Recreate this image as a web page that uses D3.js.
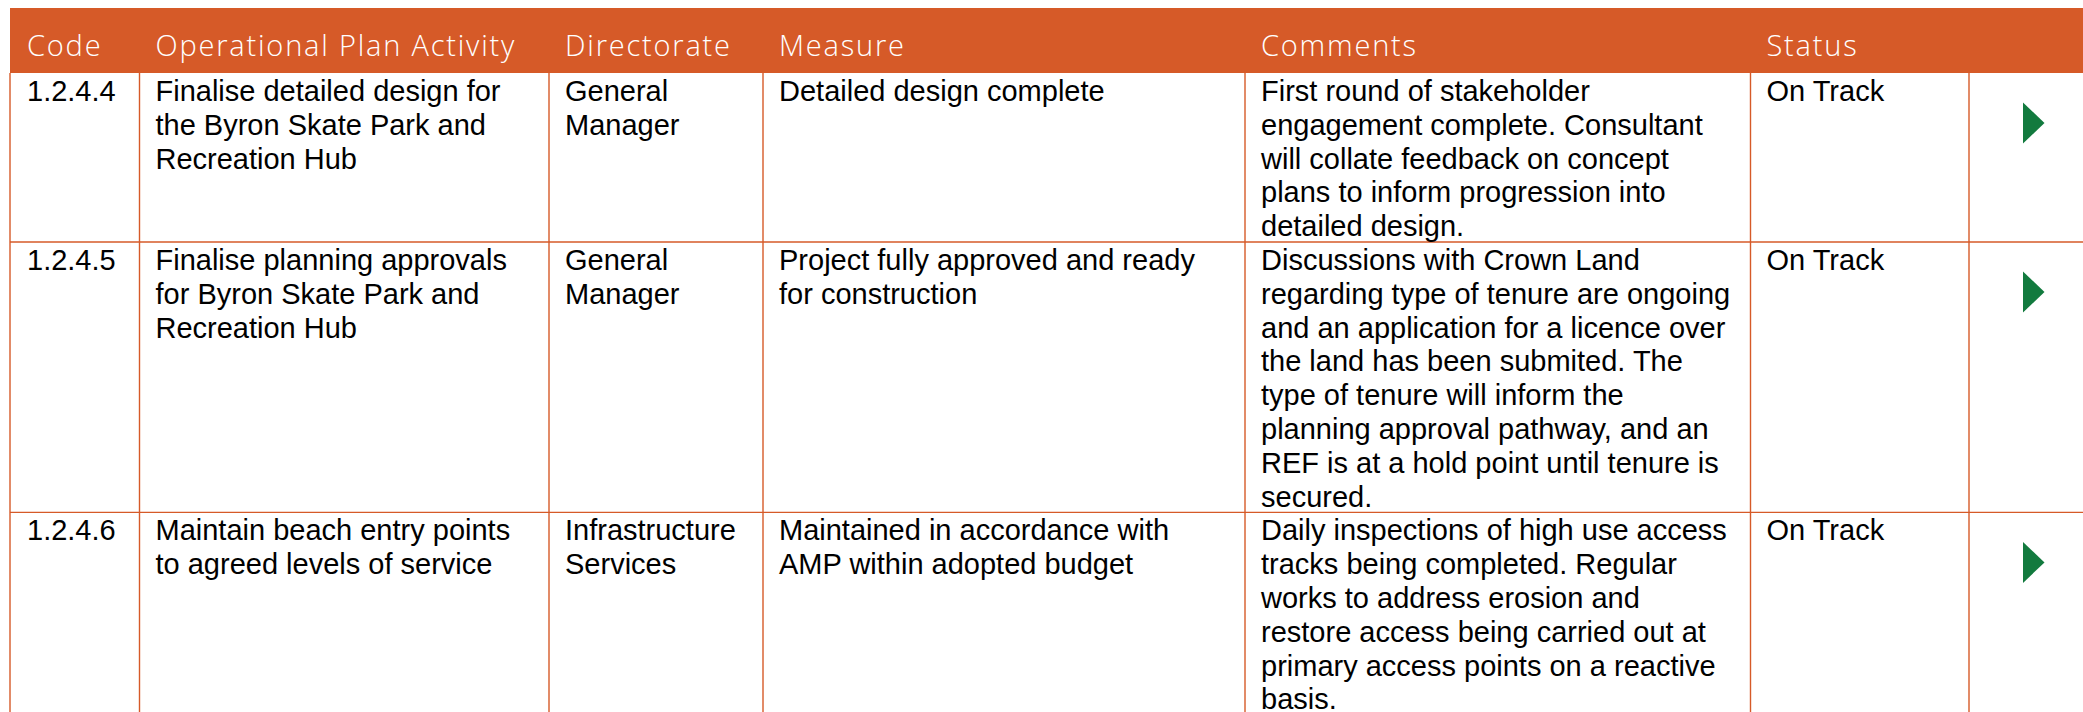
<!DOCTYPE html>
<html>
<head>
<meta charset="utf-8">
<script src="https://cdn.jsdelivr.net/npm/d3@7"></script>
<style>
  html, body { margin: 0; padding: 0; background: #ffffff; }
  svg { display: block; }
</style>
</head>
<body>
<svg id="chart" width="2083" height="712"></svg>
<script>
// ---- data ----
const headers = ["Code", "Operational Plan Activity", "Directorate", "Measure", "Comments", "Status", ""];
const codes = ["1.2.4.4", "1.2.4.5", "1.2.4.6"];
const activities = [
  "Finalise detailed design for\nthe Byron Skate Park and\nRecreation Hub",
  "Finalise planning approvals\nfor Byron Skate Park and\nRecreation Hub",
  "Maintain beach entry points\nto agreed levels of service"
];
const directorates = ["General\nManager", "General\nManager", "Infrastructure\nServices"];
const measures = [
  "Detailed design complete",
  "Project fully approved and ready\nfor construction",
  "Maintained in accordance with\nAMP within adopted budget"
];
const comments = [
  "First round of stakeholder\nengagement complete. Consultant\nwill collate feedback on concept\nplans to inform progression into\ndetailed design.",
  "Discussions with Crown Land\nregarding type of tenure are ongoing\nand an application for a licence over\nthe land has been submited. The\ntype of tenure will inform the\nplanning approval pathway, and an\nREF is at a hold point until tenure is\nsecured.",
  "Daily inspections of high use access\ntracks being completed. Regular\nworks to address erosion and\nrestore access being carried out at\nprimary access points on a reactive\nbasis."
];
const statuses = ["On Track", "On Track", "On Track"];
const trend = ["up", "up", "up"];

// ---- layout ----
const W = 2083, H = 712;
const orange = "#D65A28";
const green = "#127A3E";
const colEdges = [10, 139.5, 549, 763, 1245, 1750.5, 1969, W];
const headerTop = 8, headerBottom = 73;
const lineH = 33.8;
const pad = 16;

const rows = codes.map((c, i) => ({
  cells: [c, activities[i], directorates[i], measures[i], comments[i], statuses[i]],
  trend: trend[i]
}));
rows.forEach(r => { r.lines = d3.max(r.cells, s => s.split("\n").length); });

// cumulative row tops
let acc = headerBottom;
rows.forEach(r => { r.top = acc; acc += r.lines * lineH; r.bottom = acc; });

const svg = d3.select("#chart");

const x = d3.scaleOrdinal().domain(d3.range(colEdges.length)).range(colEdges);

// header band
svg.append("rect")
  .attr("x", colEdges[0]).attr("y", headerTop)
  .attr("width", W - colEdges[0]).attr("height", headerBottom - headerTop)
  .attr("fill", orange);

svg.append("g").selectAll("text")
  .data(headers)
  .join("text")
  .attr("x", (d, i) => (i === 0 ? x(i) + 17 : x(i) + pad))
  .attr("y", 56)
  .attr("fill", "#ffffff")
  .attr("font-family", "'Open Sans', Lato, sans-serif")
  .attr("font-weight", 300)
  .attr("font-size", 29)
  .attr("letter-spacing", 1.8)
  .text(d => d);

// grid lines
const grid = svg.append("g").attr("stroke", orange).attr("stroke-width", 1.4);
grid.selectAll("line.h")
  .data(rows.slice(0, -1))
  .join("line")
  .attr("class", "h")
  .attr("x1", colEdges[0]).attr("x2", W)
  .attr("y1", d => d.bottom).attr("y2", d => d.bottom);
grid.selectAll("line.v")
  .data(colEdges.slice(0, -1))
  .join("line")
  .attr("class", "v")
  .attr("x1", d => d).attr("x2", d => d)
  .attr("y1", headerBottom).attr("y2", H);

// body text
const rowG = svg.append("g").selectAll("g.row")
  .data(rows)
  .join("g")
  .attr("class", "row");

rowG.each(function(r) {
  const g = d3.select(this);
  r.cells.forEach((txt, ci) => {
    const t = g.append("text")
      .attr("font-family", "'Liberation Sans', Arial, sans-serif")
      .attr("font-size", 29)
      .attr("fill", "#000000");
    txt.split("\n").forEach((ln, li) => {
      t.append("tspan")
        .attr("x", ci === 0 ? x(ci) + 17 : x(ci) + pad)
        .attr("y", r.top + 28 + li * lineH)
        .text(ln);
    });
  });
  // status triangle
  const cx = x(6) + 54, cy = r.top + 50;
  const tri = d3.line()([[cx, cy - 20.5], [cx + 21.5, cy], [cx, cy + 20.5]]) + "Z";
  g.append("path").attr("d", tri).attr("fill", green);
});
</script>
</body>
</html>
